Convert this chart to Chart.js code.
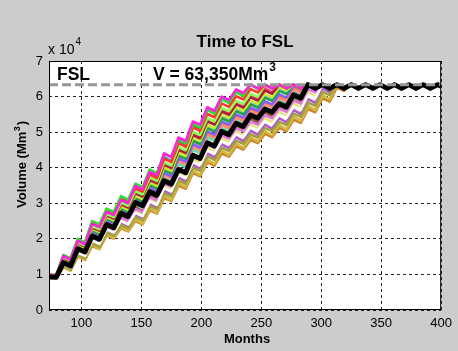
<!DOCTYPE html>
<html>
<head>
<meta charset="utf-8">
<script src="https://cdn.jsdelivr.net/npm/chart.js@4.4.0/dist/chart.umd.min.js"></script>
<style>
  html, body { margin: 0; padding: 0; background: #cccccc; }
  canvas { display: block; }
</style>
</head>
<body>
<canvas id="fsl-chart" width="458" height="351"></canvas>
<script>
// months of each sample (dry-season low / wet-season high, every 6 months)
const months = [73, 79, 85, 91, 97, 103, 109, 115, 121, 127, 133, 139, 145, 151, 157, 163, 169, 175,
  181, 187, 193, 199, 205, 211, 217, 223, 229, 235, 241, 247, 253, 259, 265, 271, 277, 283, 289, 295,
  301, 307, 313, 319, 325, 331, 337, 343, 349, 355, 361, 367, 373, 379, 385, 391, 397, 400];

const xTickValues = [100, 150, 200, 250, 300, 350, 400];
const yTickValues = [0, 1, 2, 3, 4, 5, 6, 7];

// volumes in units of 10^4 Mm3
const fslLevel = 6.335;

const seriesBlack = [0.93, 0.92, 1.33, 1.24, 1.72, 1.63, 2.08, 1.99, 2.40, 2.31, 2.72, 2.63, 3.02, 2.93,
  3.32, 3.23, 3.63, 3.54, 3.95, 3.86, 4.35, 4.26, 4.70, 4.61, 5.02, 4.93, 5.25, 5.16, 5.48, 5.39,
  5.65, 5.56, 5.80, 5.71, 6.05, 5.96, 6.335, 6.23, 6.335, 6.23, 6.335, 6.23, 6.335, 6.23, 6.335, 6.23,
  6.335, 6.23, 6.335, 6.23, 6.335, 6.23, 6.335, 6.23, 6.335, 6.29];

const seriesGreen = [1.00, 0.97, 1.55, 1.46, 2.00, 1.90, 2.50, 2.41, 2.85, 2.76, 3.20, 3.10, 3.55, 3.46,
  3.95, 3.85, 4.40, 4.30, 4.78, 4.69, 5.23, 5.13, 5.62, 5.52, 5.92, 5.83, 6.12, 6.02, 6.335, 6.23,
  6.335, 6.23, 6.335, 6.23, 6.335, 6.23, 6.335];
const seriesMagenta = [0.99, 0.96, 1.51, 1.42, 1.94, 1.85, 2.42, 2.33, 2.76, 2.67, 3.09, 3.00, 3.49, 3.39,
  3.88, 3.79, 4.40, 4.30, 4.85, 4.75, 5.30, 5.21, 5.70, 5.60, 6.00, 5.90, 6.20, 6.10, 6.335, 6.23,
  6.335, 6.23, 6.335, 6.23, 6.335, 6.23, 6.335];
const seriesTeal = [0.99, 0.96, 1.49, 1.38, 1.92, 1.81, 2.39, 2.28, 2.73, 2.62, 3.06, 2.95, 3.38, 3.26,
  3.86, 3.74, 4.30, 4.18, 4.74, 4.62, 5.18, 5.06, 5.64, 5.52, 5.94, 5.82, 6.14, 6.02, 6.335, 6.23,
  6.335, 6.23, 6.335, 6.23, 6.335, 6.23, 6.335];
const seriesRed = [1.00, 0.98, 1.53, 1.44, 1.98, 1.88, 2.47, 2.38, 2.81, 2.72, 3.16, 3.06, 3.42, 3.33,
  3.81, 3.71, 4.25, 4.16, 4.69, 4.59, 5.13, 5.04, 5.51, 5.42, 5.81, 5.71, 6.01, 5.92, 6.21, 6.12,
  6.335, 6.23, 6.335, 6.23, 6.335, 6.23, 6.335];
const seriesLime = [0.99, 0.96, 1.48, 1.40, 1.90, 1.81, 2.36, 2.27, 2.70, 2.61, 3.02, 2.93, 3.34, 3.25,
  3.72, 3.63, 4.15, 4.06, 4.58, 4.49, 5.01, 4.92, 5.39, 5.30, 5.68, 5.59, 5.88, 5.79, 6.08, 5.99,
  6.335, 6.23, 6.335, 6.23, 6.335, 6.23, 6.335];
const seriesRose = [0.98, 0.95, 1.47, 1.35, 1.89, 1.77, 2.35, 2.23, 2.69, 2.57, 3.00, 2.88, 3.32, 3.20,
  3.70, 3.58, 4.13, 4.01, 4.55, 4.43, 4.98, 4.86, 5.36, 5.24, 5.65, 5.53, 5.85, 5.73, 6.04, 5.92,
  6.24, 6.12, 6.335, 6.23, 6.335, 6.23, 6.335];
const seriesDarkRed = [0.98, 0.95, 1.46, 1.37, 1.87, 1.78, 2.32, 2.23, 2.66, 2.57, 2.97, 2.88, 3.28, 3.19,
  3.65, 3.56, 4.08, 3.99, 4.50, 4.41, 4.92, 4.83, 5.30, 5.21, 5.58, 5.49, 5.78, 5.69, 5.98, 5.89,
  6.17, 6.08, 6.335, 6.23, 6.335, 6.23, 6.335];
const seriesYellowGreen = [0.98, 0.95, 1.44, 1.35, 1.84, 1.75, 2.28, 2.19, 2.61, 2.52, 2.91, 2.82, 3.21, 3.12,
  3.58, 3.49, 4.00, 3.91, 4.42, 4.33, 4.84, 4.75, 5.20, 5.11, 5.49, 5.40, 5.69, 5.60, 5.88, 5.79,
  6.07, 5.98, 6.26, 6.17, 6.335, 6.23, 6.335];
const seriesLightBlue = [0.98, 0.95, 1.43, 1.32, 1.83, 1.72, 2.26, 2.15, 2.60, 2.49, 2.89, 2.78, 3.19, 3.08,
  3.56, 3.45, 3.98, 3.87, 4.39, 4.28, 4.81, 4.70, 5.17, 5.06, 5.46, 5.35, 5.66, 5.55, 5.85, 5.74,
  6.04, 5.93, 6.23, 6.12, 6.335, 6.23, 6.335];
const seriesDarkGreen = [0.97, 0.94, 1.42, 1.33, 1.81, 1.72, 2.23, 2.14, 2.57, 2.48, 2.86, 2.77, 3.15, 3.06,
  3.51, 3.42, 3.93, 3.84, 4.34, 4.25, 4.75, 4.66, 5.11, 5.02, 5.39, 5.30, 5.59, 5.50, 5.78, 5.69,
  5.97, 5.88, 6.16, 6.07, 6.335, 6.23, 6.335];
const seriesPurple = [0.97, 0.94, 1.40, 1.31, 1.78, 1.69, 2.19, 2.10, 2.52, 2.43, 2.80, 2.71, 3.09, 3.00,
  3.44, 3.35, 3.85, 3.76, 4.26, 4.17, 4.66, 4.57, 5.02, 4.93, 5.30, 5.21, 5.50, 5.41, 5.69, 5.60,
  5.87, 5.78, 6.06, 5.97, 6.30, 6.21, 6.335];
const seriesOrangeBright = [0.97, 0.94, 1.39, 1.27, 1.77, 1.65, 2.17, 2.05, 2.50, 2.38, 2.78, 2.66, 3.06, 2.94,
  3.41, 3.29, 3.81, 3.69, 4.22, 4.10, 4.62, 4.50, 4.97, 4.85, 5.25, 5.13, 5.45, 5.33, 5.64, 5.52,
  5.82, 5.70, 6.01, 5.89, 6.25, 6.13, 6.335];
const seriesSalmon = [0.96, 0.93, 1.38, 1.29, 1.75, 1.66, 2.15, 2.06, 2.48, 2.39, 2.75, 2.66, 3.03, 2.94,
  3.38, 3.29, 3.78, 3.69, 4.18, 4.09, 4.58, 4.49, 4.93, 4.84, 5.20, 5.11, 5.40, 5.31, 5.59, 5.50,
  5.78, 5.69, 5.96, 5.87, 6.20, 6.11, 6.335];
const seriesMint = [0.96, 0.93, 1.36, 1.27, 1.73, 1.64, 2.12, 2.03, 2.44, 2.35, 2.71, 2.62, 2.97, 2.88,
  3.32, 3.23, 3.71, 3.62, 4.11, 4.02, 4.50, 4.41, 4.85, 4.76, 5.12, 5.03, 5.32, 5.23, 5.51, 5.42,
  5.69, 5.60, 5.88, 5.79, 6.12, 6.03, 6.335];
const seriesBrown = [0.96, 0.93, 1.33, 1.22, 1.69, 1.58, 2.06, 1.95, 2.38, 2.27, 2.63, 2.52, 2.89, 2.78,
  3.23, 3.12, 3.61, 3.50, 4.00, 3.89, 4.39, 4.28, 4.72, 4.61, 4.99, 4.88, 5.19, 5.08, 5.38, 5.27,
  5.56, 5.45, 5.74, 5.63, 5.98, 5.87, 6.30, 6.20, 6.335];
const seriesPink = [0.95, 0.92, 1.31, 1.22, 1.66, 1.57, 2.02, 1.93, 2.34, 2.25, 2.59, 2.50, 2.84, 2.75,
  3.17, 3.08, 3.55, 3.46, 3.93, 3.84, 4.31, 4.22, 4.65, 4.56, 4.91, 4.82, 5.11, 5.02, 5.30, 5.21,
  5.48, 5.39, 5.66, 5.57, 5.89, 5.80, 6.21, 6.12, 6.335];
const seriesPaleYellow = [0.95, 0.92, 1.30, 1.18, 1.64, 1.52, 1.99, 1.87, 2.30, 2.18, 2.54, 2.42, 2.78, 2.66,
  3.11, 2.99, 3.49, 3.37, 3.86, 3.74, 4.24, 4.12, 4.57, 4.45, 4.83, 4.71, 5.03, 4.91, 5.22, 5.10,
  5.40, 5.28, 5.57, 5.45, 5.81, 5.69, 6.12, 6.00, 6.335];
const seriesWhite = [0.95, 0.92, 1.28, 1.19, 1.61, 1.52, 1.95, 1.86, 2.27, 2.18, 2.50, 2.41, 2.73, 2.64,
  3.05, 2.96, 3.43, 3.34, 3.80, 3.71, 4.17, 4.08, 4.49, 4.40, 4.75, 4.66, 4.95, 4.86, 5.14, 5.05,
  5.31, 5.22, 5.49, 5.40, 5.72, 5.63, 6.04, 5.95, 6.335];
const seriesViolet = [0.94, 0.91, 1.26, 1.15, 1.58, 1.47, 1.91, 1.80, 2.22, 2.11, 2.44, 2.33, 2.67, 2.56,
  2.98, 2.87, 3.35, 3.24, 3.72, 3.61, 4.08, 3.97, 4.40, 4.29, 4.66, 4.55, 4.86, 4.75, 5.04, 4.93,
  5.21, 5.10, 5.39, 5.28, 5.62, 5.51, 5.93, 5.82, 6.23, 6.12, 6.335];
const seriesOlive = [0.94, 0.91, 1.24, 1.15, 1.55, 1.46, 1.87, 1.78, 2.18, 2.09, 2.39, 2.30, 2.61, 2.52,
  2.92, 2.83, 3.28, 3.19, 3.64, 3.55, 4.00, 3.91, 4.31, 4.22, 4.56, 4.47, 4.76, 4.67, 4.94, 4.85,
  5.12, 5.03, 5.29, 5.20, 5.52, 5.43, 5.83, 5.74, 6.13, 6.04, 6.335];
const seriesMustard = [0.93, 0.90, 1.22, 1.10, 1.53, 1.41, 1.84, 1.72, 2.14, 2.02, 2.35, 2.23, 2.55, 2.43,
  2.86, 2.74, 3.21, 3.09, 3.57, 3.45, 3.92, 3.80, 4.23, 4.11, 4.48, 4.36, 4.68, 4.56, 4.86, 4.74,
  5.03, 4.91, 5.20, 5.08, 5.44, 5.32, 5.74, 5.62, 6.04, 5.92, 6.335];
const seriesOrange = [0.93, 0.90, 1.20, 1.11, 1.50, 1.41, 1.80, 1.71, 2.10, 2.01, 2.30, 2.21, 2.50, 2.41,
  2.80, 2.71, 3.15, 3.06, 3.50, 3.41, 3.85, 3.76, 4.15, 4.06, 4.40, 4.31, 4.60, 4.51, 4.78, 4.69,
  4.95, 4.86, 5.12, 5.03, 5.35, 5.26, 5.65, 5.56, 5.95, 5.86, 6.25, 6.16, 6.335];

const toPoints = vals => vals.map((v, i) => ({ x: months[i], y: v }));

// first entry ends up drawn on top
const runs = [
  [seriesMagenta, '#ff22dd'],
  [seriesGreen, '#35d93c'],
  [seriesRed, '#ff3a24'],
  [seriesWhite, '#ffffff'],
  [seriesLime, '#8cff5a'],
  [seriesPink, '#dd77dd'],
  [seriesDarkRed, '#b01f35'],
  [seriesOlive, '#a0a042'],
  [seriesYellowGreen, '#c6ea36'],
  [seriesViolet, '#b05ad0'],
  [seriesDarkGreen, '#23a04a'],
  [seriesPaleYellow, '#e6e27a'],
  [seriesPurple, '#8a5cff'],
  [seriesTeal, '#1f9f9a'],
  [seriesSalmon, '#ff8a78'],
  [seriesRose, '#ff4488'],
  [seriesMint, '#55ddaa'],
  [seriesLightBlue, '#7fb8ff'],
  [seriesOrangeBright, '#ff7a10'],
  [seriesBrown, '#8a5a30'],
  [seriesMustard, '#d4b83a'],
  [seriesOrange, '#cc8430']
];

const FONT = '"Liberation Sans", Arial, sans-serif';
Chart.defaults.font.family = FONT;

// axes box, titles and the FSL labels in the MATLAB look
const decorPlugin = {
  id: 'decor',
  beforeDraw(chart) {
    const { ctx, chartArea: a } = chart;
    ctx.save();
    ctx.fillStyle = '#cccccc';
    ctx.fillRect(0, 0, chart.width, chart.height);
    ctx.fillStyle = '#ffffff';
    ctx.fillRect(a.left, a.top, a.right - a.left, a.bottom - a.top);
    ctx.restore();
  },
  afterDraw(chart) {
    const { ctx, chartArea: a } = chart;
    ctx.save();
    ctx.strokeStyle = '#000';
    ctx.lineWidth = 1;
    ctx.strokeRect(a.left + 0.5, a.top + 0.5, a.right - a.left - 1, a.bottom - a.top - 1);

    ctx.fillStyle = '#000';
    ctx.textBaseline = 'alphabetic';

    ctx.textAlign = 'center';
    ctx.font = 'bold 17px ' + FONT;
    ctx.fillText('Time to FSL', (a.left + a.right) / 2, 47);

    ctx.font = 'bold 13px ' + FONT;
    ctx.fillText('Months', 247, 343);

    ctx.textAlign = 'left';
    ctx.font = '14px ' + FONT;
    ctx.fillText('x 10', 48, 54);
    const w10 = ctx.measureText('x 10').width;
    ctx.font = '10px ' + FONT;
    ctx.fillText('4', 48 + w10 + 1, 45);

    ctx.font = 'bold 17.5px ' + FONT;
    ctx.fillText('FSL', 57, 80);
    const vText = 'V = 63,350Mm';
    ctx.fillText(vText, 153, 80);
    const wv = ctx.measureText(vText).width;
    ctx.font = 'bold 12px ' + FONT;
    ctx.fillText('3', 153 + wv + 1, 71);

    ctx.translate(26, 208);
    ctx.rotate(-Math.PI / 2);
    ctx.font = 'bold 13px ' + FONT;
    ctx.fillText('Volume (Mm', 0, 0);
    const wl = ctx.measureText('Volume (Mm').width;
    ctx.font = 'bold 9px ' + FONT;
    ctx.fillText('3', wl + 0.5, -6);
    const ws = ctx.measureText('3').width;
    ctx.font = 'bold 13px ' + FONT;
    ctx.fillText(')', wl + ws + 1.5, 0);
    ctx.restore();
  }
};

const datasets = [
  {
    data: [{ x: months[0], y: fslLevel }, { x: months[months.length - 1], y: fslLevel }],
    borderColor: '#969696',
    borderWidth: 3,
    borderDash: [9, 4],
    clip: 0
  },
  {
    data: toPoints(seriesBlack),
    borderColor: '#000000',
    borderWidth: 5,
    clip: 0
  }
].concat(runs.map(([vals, color]) => ({
  data: toPoints(vals),
  borderColor: color,
  borderWidth: 2.6,
  clip: 0
})));

new Chart(document.getElementById('fsl-chart'), {
  type: 'line',
  data: { datasets },
  options: {
    responsive: false,
    animation: false,
    layout: { padding: { left: 0, top: 61, right: 11, bottom: 0 } },
    plugins: { legend: { display: false }, tooltip: { enabled: false } },
    elements: { point: { radius: 0 }, line: { tension: 0, borderJoinStyle: 'round' } },
    scales: {
      x: {
        type: 'linear',
        min: months[0],
        max: 400,
        afterBuildTicks: s => { s.ticks = xTickValues.map(v => ({ value: v })); },
        afterFit: s => { s.height = 41; },
        grid: { color: 'rgba(0,0,0,0.85)', lineWidth: 1, drawTicks: false },
        border: { display: false, dash: [3, 3] },
        ticks: { color: '#000', font: { size: 13 }, padding: 6, maxRotation: 0, autoSkip: false }
      },
      y: {
        min: 0,
        max: 7,
        afterBuildTicks: s => { s.ticks = yTickValues.map(v => ({ value: v })); },
        afterFit: s => { s.width = 49; },
        grid: { color: 'rgba(0,0,0,0.85)', lineWidth: 1, drawTicks: false },
        border: { display: false, dash: [3, 3] },
        ticks: { color: '#000', font: { size: 13 }, padding: 6 }
      }
    }
  },
  plugins: [decorPlugin]
});
</script>
</body>
</html>
